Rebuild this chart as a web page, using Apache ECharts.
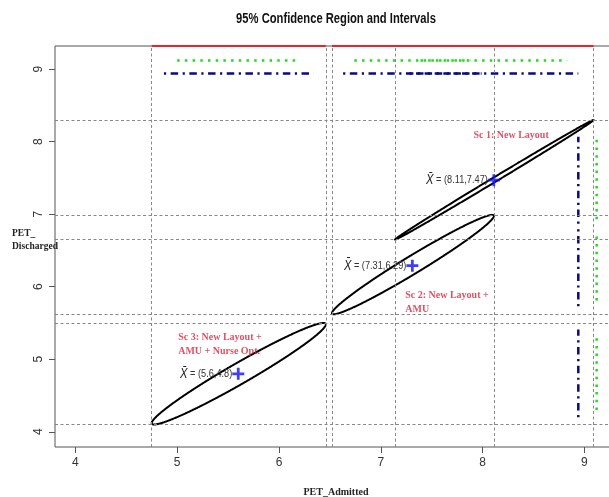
<!DOCTYPE html>
<html><head><meta charset="utf-8">
<script src="https://cdn.jsdelivr.net/npm/echarts@6/dist/echarts.min.js"></script>
<style>html,body{margin:0;padding:0;background:#fff}#c{width:609px;height:497px}</style>
</head><body><div id="c"></div>
<script>
// ---- data ----
const scenarios = ['Sc 1', 'Sc 2', 'Sc 3'];
const meanX = [8.11, 7.31, 5.6];
const meanY = [7.47, 6.29, 4.8];
// T2 simultaneous intervals (bounding box of each ellipse)
const t2XLow  = [7.14, 6.52, 4.75];
const t2XHigh = [9.09, 8.11, 6.46];
const t2YLow  = [6.65, 5.62, 4.10];
const t2YHigh = [8.30, 6.99, 5.50];
// Bonferroni intervals (green dotted)
const bonfXLow  = [7.39, 6.74, 5.00];
const bonfXHigh = [8.83, 7.88, 6.20];
const bonfYLow  = [6.93, 5.81, 4.30];
const bonfYHigh = [8.03, 6.76, 5.32];
// univariate intervals (blue dash-dot)
const univXLow  = [7.28, 6.63, 4.87];
const univXHigh = [8.94, 7.99, 6.34];
const univYLow  = [6.87, 5.73, 4.20];
const univYHigh = [8.07, 6.85, 5.41];
// correlation shaping each confidence ellipse
const corr = [0.999, 0.978, 0.972];
const tickValues = [4, 5, 6, 7, 8, 9];
const scenarioNotes = ['Sc 1: New Layout', 'Sc 2: New Layout +\nAMU', 'Sc 3: New Layout +\nAMU + Nurse Opt.'];

// ---- layout ----
const AX_MIN_X = 3.8, AX_MAX_X = 9.32, AX_MIN_Y = 3.79, AX_MAX_Y = 9.32;
const LEVEL_RED = 9.32, LEVEL_GREEN = 9.12, LEVEL_BLUE = 8.94;
const notePos = [[7.91, 8.08], [7.24, 5.79], [5.01, 5.20]];
const SANS = "'Liberation Sans',Arial,sans-serif";
const SERIF = "'Liberation Serif','DejaVu Serif',serif";

const chart = echarts.init(document.getElementById('c'), null, {renderer: 'canvas'});

function intervalSeries(lows, highs, level, orient, style) {
  return {
    type: 'custom', clip: false, silent: true, z: 4,
    data: lows.map((l, i) => [l, highs[i]]),
    renderItem(params, api) {
      const lo = api.value(0), hi = api.value(1);
      const p1 = orient === 'h' ? api.coord([lo, level]) : api.coord([level, lo]);
      const p2 = orient === 'h' ? api.coord([hi, level]) : api.coord([level, hi]);
      return {type: 'line', shape: {x1: p1[0], y1: p1[1], x2: p2[0], y2: p2[1]},
        style: Object.assign({fill: null, lineCap: 'butt'}, style)};
    }
  };
}

const redStyle = {stroke: '#e8242c', lineWidth: 2};
const greenStyle = {stroke: '#1fdc1f', lineWidth: 2.5, lineDash: [2.5, 5.2]};
const blueStyle = {stroke: '#0a0a80', lineWidth: 2.5, lineDash: [2.2, 4.5, 7.5, 4.5]};

const guideLines = []
  .concat(t2XLow, t2XHigh).map(v => ({xAxis: v}))
  .concat([].concat(t2YLow, t2YHigh).map(v => ({yAxis: v})));

const option = {
  animation: false,
  grid: {left: 55, top: 46, width: 562, height: 401, show: true, borderColor: '#555', borderWidth: 1,
    containLabel: false, outerBoundsMode: 'none'},
  xAxis: {
    type: 'value', min: AX_MIN_X, max: AX_MAX_X,
    axisLine: {show: false}, splitLine: {show: false},
    axisTick: {customValues: tickValues, length: 6, lineStyle: {color: '#555'}},
    axisLabel: {customValues: tickValues, margin: 10, fontSize: 12, color: '#333', fontFamily: SANS},
    name: 'PET_Admitted', nameLocation: 'middle', nameGap: 40,
    nameTextStyle: {fontFamily: SERIF, fontWeight: 'bold', fontSize: 10, color: '#222'}
  },
  yAxis: {
    type: 'value', min: AX_MIN_Y, max: AX_MAX_Y,
    axisLine: {show: false}, splitLine: {show: false},
    axisTick: {customValues: tickValues, length: 6, lineStyle: {color: '#555'}},
    axisLabel: {customValues: tickValues, margin: 10, rotate: 90, fontSize: 12, color: '#333', fontFamily: SANS}
  },
  graphic: [
    {type: 'text', x: 336, y: 19, scaleX: 0.8, style: {text: '95% Confidence Region and Intervals', textAlign: 'center', textVerticalAlign: 'middle',
      font: "bold 14px " + SANS, fill: '#111'}},
    {type: 'text', x: 12, y: 227, style: {text: 'PET_\nDischarged', textAlign: 'left', textVerticalAlign: 'top',
      font: "bold 9.5px " + SERIF, fill: '#222', lineHeight: 13}}
  ],
  series: [
    // gray guide lines at the T2 interval limits
    {type: 'scatter', data: [], silent: true,
      markLine: {silent: true, symbol: 'none', label: {show: false}, animation: false,
        lineStyle: {color: '#888', type: [3, 2.5], width: 1}, data: guideLines}},
    // ellipses
    {type: 'custom', silent: true, z: 3, clip: true,
      data: scenarios.map((s, i) => [meanX[i], meanY[i]]),
      renderItem(params, api) {
        const i = params.dataIndex;
        const cx = (t2XLow[i] + t2XHigh[i]) / 2, cy = (t2YLow[i] + t2YHigh[i]) / 2;
        const a = (t2XHigh[i] - t2XLow[i]) / 2, b = (t2YHigh[i] - t2YLow[i]) / 2;
        const d = Math.acos(corr[i]);
        const pts = [];
        for (let k = 0; k < 720; k++) {
          const t = k * Math.PI / 360;
          pts.push(api.coord([cx + a * Math.cos(t), cy + b * Math.cos(t - d)]));
        }
        return {type: 'polygon', shape: {points: pts}, style: {fill: null, stroke: '#000', lineWidth: 2}};
      }},
    intervalSeries(t2XLow, t2XHigh, LEVEL_RED, 'h', redStyle),
    intervalSeries(bonfXLow, bonfXHigh, LEVEL_GREEN, 'h', greenStyle),
    intervalSeries(univXLow, univXHigh, LEVEL_BLUE, 'h', blueStyle),
    intervalSeries(t2YLow, t2YHigh, LEVEL_RED, 'v', redStyle),
    intervalSeries(bonfYLow, bonfYHigh, LEVEL_GREEN, 'v', greenStyle),
    intervalSeries(univYLow, univYHigh, LEVEL_BLUE, 'v', blueStyle),
    // mean markers
    {type: 'scatter', z: 6, silent: true,
      data: meanX.map((x, i) => [x, meanY[i]]),
      symbol: 'path://M5,0H8V5H13V8H8V13H5V8H0V5H5Z', symbolSize: 12,
      itemStyle: {color: '#1010ee'}},
    // mean labels (narrow text)
    {type: 'custom', z: 6, silent: true, clip: false,
      data: meanX.map((x, i) => [x, meanY[i]]),
      renderItem(params, api) {
        const i = params.dataIndex;
        const p = api.coord([api.value(0), api.value(1)]);
        return {type: 'text', x: p[0] - 6, y: p[1], scaleX: 0.8,
          style: {text: '{x|X\u0304} = (' + meanX[i] + ',' + meanY[i] + ')', textAlign: 'right', textVerticalAlign: 'middle',
            fontFamily: SANS, fontSize: 11.5, fill: '#333',
            rich: {x: {fontStyle: 'italic', fontSize: 14, fontFamily: SANS, fill: '#222'}}}};
      }},
    // scenario notes
    {type: 'scatter', z: 6, silent: true, symbolSize: 0,
      data: notePos.map(p => p.slice()),
      label: {show: true, position: 'right', distance: 0, color: '#d7263d', fontFamily: SERIF, fontWeight: 'bold',
        fontSize: 10, lineHeight: 14, align: 'left',
        formatter: p => scenarioNotes[p.dataIndex]}}
  ]
};
chart.setOption(option);
</script>
</body></html>
